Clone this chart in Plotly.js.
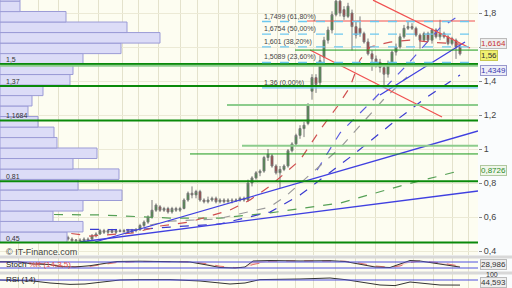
<!DOCTYPE html>
<html><head><meta charset="utf-8">
<script src="https://cdn.plot.ly/plotly-3.0.1.min.js"></script>
<style>html,body{margin:0;padding:0;background:#fff;}#chart{width:512px;height:288px;}</style>
</head><body><div id="chart"></div>
<script>
// ---- candles (weekly index) ----
const opens = [.56,.57,.55,.56,.59,.58,.60,.59,.60,.57,.56,.57,.55,.53,.50,.49,.48,.47,.46,.465,.46,.47,.47,.49,.50,.52,.51,.52,.51,.52,.515,.52,.51,.52,.525,.55,.57,.60,.64,.66,.64,.65,.63,.65,.64,.65,.70,.74,.73,.75,.70,.69,.70,.71,.69,.70,.69,.70,.695,.70,.71,.70,.80,.83,.86,.87,.95,.96,.90,.86,.88,.90,.99,1.03,1.08,1.12,1.15,1.34,1.42,1.39,1.54,1.64,1.70,1.79,1.87,1.82,1.78,1.80,1.72,1.71,1.68,1.63,1.56,1.53,1.51,1.48,1.44,1.50,1.57,1.60,1.66,1.71,1.72,1.71,1.67,1.64,1.68,1.64,1.70,1.66,1.68,1.66,1.62,1.64,1.60];
const highs = [.58,.58,.57,.60,.60,.61,.61,.61,.60,.58,.58,.58,.56,.53,.51,.50,.49,.48,.47,.475,.48,.48,.50,.51,.53,.53,.53,.53,.53,.53,.53,.53,.53,.535,.56,.58,.61,.70,.68,.67,.66,.66,.66,.66,.66,.71,.75,.78,.76,.76,.71,.72,.72,.72,.71,.71,.71,.71,.71,.72,.72,.82,.84,.87,.88,.96,1.0,.97,.91,.90,.91,1.0,1.04,1.09,1.14,1.16,1.27,1.44,1.44,1.55,1.66,1.72,1.81,1.90,1.92,1.84,1.86,1.82,1.75,1.78,1.69,1.65,1.58,1.55,1.53,1.50,1.52,1.58,1.62,1.68,1.73,1.75,1.74,1.72,1.68,1.69,1.69,1.71,1.71,1.76,1.69,1.67,1.66,1.65,1.61];
const lows = [.55,.54,.54,.55,.56,.57,.58,.57,.56,.52,.55,.54,.53,.49,.48,.47,.46,.455,.45,.45,.45,.455,.46,.48,.495,.50,.50,.505,.50,.51,.505,.50,.505,.51,.52,.54,.56,.59,.63,.63,.63,.62,.62,.63,.63,.645,.69,.71,.71,.69,.68,.68,.69,.68,.68,.68,.685,.68,.69,.69,.69,.69,.78,.82,.84,.86,.93,.89,.85,.77,.87,.89,.98,1.02,1.06,1.07,1.14,1.29,1.33,1.37,1.50,1.62,1.68,1.78,1.78,1.76,1.77,1.58,1.65,1.66,1.62,1.55,1.46,1.48,1.45,1.36,1.42,1.49,1.55,1.59,1.65,1.70,1.70,1.66,1.59,1.63,1.63,1.62,1.65,1.64,1.65,1.61,1.61,1.53,1.55];
const closes = [.57,.55,.56,.59,.58,.60,.59,.60,.57,.56,.57,.55,.54,.50,.49,.48,.47,.46,.465,.46,.47,.465,.49,.50,.52,.51,.52,.51,.52,.515,.52,.51,.52,.525,.55,.57,.60,.64,.67,.64,.65,.63,.65,.64,.65,.70,.74,.73,.75,.70,.69,.70,.71,.69,.70,.69,.70,.695,.70,.71,.70,.80,.83,.86,.87,.95,.97,.90,.86,.88,.90,.99,1.03,1.08,1.12,1.14,1.26,1.42,1.38,1.52,1.64,1.70,1.79,1.87,1.80,1.78,1.84,1.72,1.67,1.68,1.63,1.56,1.53,1.51,1.48,1.44,1.50,1.57,1.60,1.66,1.71,1.72,1.71,1.67,1.64,1.68,1.64,1.70,1.66,1.68,1.66,1.62,1.65,1.60,1.56];
const candleIdx = opens.map((_, i) => i);

// ---- volume-at-price profile ----
const profilePrice = [0.481,0.543,0.605,0.666,0.728,0.790,0.852,0.913,0.975,1.037,1.098,1.160,1.222,1.284,1.345,1.407,1.469,1.531,1.592,1.654,1.716,1.778,1.839,1.901];
const profileVolume = [67,83,53,83,122,78,119,73,97,57,54,38,28,32,43,70,73,83,121,160,127,66,20,20];

// ---- moving averages / drawn lines (index, price) ----
const maRedIdx = [-1,9,14,21.5,32.25,39,46.5,56.5,61.5,66.5,74,79,83.25,86.5,89,91.5,96.5,101.5,106.5,114];
const maRedVal = [.529,.541,.512,.488,.506,.547,.571,.641,.700,.782,.935,1.112,1.247,1.365,1.524,1.60,1.629,1.641,1.629,1.6164];
const maGrayIdx = [36.5,41.5,53.25,66.5,70.75,84,94.75,100.75];
const maGrayVal = [.553,.576,.588,.659,.729,1.006,1.288,1.424];
const maBlueIdx = [-1,19.75,32.25,41.5,54,66.5,74,87.25,96.5,105.75,114];
const maBlueVal = [.535,.529,.524,.541,.559,.629,.729,.965,1.141,1.306,1.4349];
const maGreenIdx = [-1,24,41.5,54,66.5,84,99,114];
const maGreenVal = [.618,.612,.594,.594,.624,.682,.782,.8726];
const fanBlueIdx = [78.25,84,92.25,100.25,109,114];
const fanBlueVal = [.876,1.094,1.288,1.482,1.712,1.788];

const trendA = {idx:[22.75,118.5], val:[.453,1.106]};
const trendB = {idx:[19,118.5], val:[.453,.753]};
const trendC = {idx:[94,115.25], val:[1.318,1.629]};
const redUpper = {idx:[92.25,116.5], val:[1.876,1.594]};
const redLower = {idx:[76.5,109.5], val:[1.582,1.188]};
const redTop = {idx:[75.75,117.75], val:[1.753,1.753]};

// ---- horizontal levels ----
const supportLevels = [1.5, 1.37, 1.1684, 0.81, 0.45];
const supportLabels = ['1,5','1,37','1,1684','0,81','0,45'];
const fibLevels = [1.7499, 1.6754, 1.601, 1.5089, 1.36];
const fibLabels = ['1,7499 (61,80%)','1,6754 (50,00%)','1,601 (38,20%)','1,5089 (23,60%)','1,36 (0,00%)'];
const fibStartIdx = 64.5;

// ---- price axis ticks ----
const yTickVals = [0.4,0.6,0.8,1,1.2,1.4,1.6,1.8];
const yTickText = ['0,4','0,6','0,8','1','1,2','1,4','','1,8'];

// ---- oscillators ----
const stochIdx = [-1,3.25,7.25,11.5,14,17.75,21.5,25.25,28.25,34,41.5,46.5,50.75,54,57.75,60.25,62.25,66.5,74,81.5,85.25,89,92.75,96.5,99,101.5,104,109,114];
const stochK = [83,83,60,55,33,30,43,70,85,88,85,80,50,25,20,30,90,95,90,93,85,55,30,25,60,95,90,60,28.986];
const stochD = [80,82,70,58,42,32,36,55,75,86,86,82,62,38,24,25,55,88,92,91,88,68,40,28,40,75,90,72,40];
const rsiIdx = [-1,7.25,11.5,16.5,20.25,24,29,34,41.5,49,56.5,60.25,64,74,81.5,85.25,89,94,97.75,101.5,104,109,114];
const rsiVal = [70,65,55,48,50,60,70,72,72,65,50,55,72,75,80,72,60,45,42,60,55,45,44.593];

const gridIdx = [3.5,8.5,13.5,18.5,23.5,29.5,33.5,38.5,44,48.25,53.5,58.5,63.25,68.25,72.75,77.25,82.75,87.75,92.75,97.75,102.25,107.25,112,116];

const F = 'Arial, "Liberation Sans", sans-serif';
const xEnd = 478/512;

function line(o, color, dash, width, ya) {
  return {type:'scatter', mode:'lines', x:o.idx, y:o.val, xaxis:'x', yaxis:ya||'y',
    line:{color:color, dash:dash||'solid', width:width||1}, hoverinfo:'skip', showlegend:false};
}

const traces = [
  {type:'bar', orientation:'h', x:profileVolume, y:profilePrice, xaxis:'x2', yaxis:'y', width:0.0618,
   marker:{color:'#dcdcf7', line:{color:'#9b9bd6', width:1}}, hoverinfo:'skip', showlegend:false},
  line({idx:maGreenIdx,val:maGreenVal}, '#55a055', 'dash', 1.2),
  line({idx:maBlueIdx,val:maBlueVal}, '#3a3ad0', 'dash', 1.2),
  line({idx:fanBlueIdx,val:fanBlueVal}, '#5a5ae0', 'dash', 1.2),
  line({idx:maGrayIdx,val:maGrayVal}, '#9a9a9a', 'dash', 1.2),
  line({idx:maRedIdx,val:maRedVal}, '#d05050', 'dash', 1.2),
  line(trendA, '#4040e0', 'solid', 1.3),
  line(trendB, '#4040e0', 'solid', 1.3),
  line(trendC, '#4040e0', 'solid', 1.3),
  line(redUpper, '#f05050', 'solid', 1.2),
  line(redLower, '#f05050', 'solid', 1.2),
  line(redTop, '#f05050', 'solid', 1.2),
  {type:'candlestick', x:candleIdx, open:opens, high:highs, low:lows, close:closes, xaxis:'x', yaxis:'y',
   increasing:{line:{color:'#7a7a7a', width:1}, fillcolor:'#3a8f3a'},
   decreasing:{line:{color:'#7a7a7a', width:1}, fillcolor:'#a83030'},
   whiskerwidth:0, hoverinfo:'skip', showlegend:false},
  {type:'scatter', mode:'lines', x:stochIdx, y:stochD, xaxis:'x', yaxis:'y3', line:{color:'#e07070', width:1, dash:'dash'}, hoverinfo:'skip', showlegend:false},
  {type:'scatter', mode:'lines', x:stochIdx, y:stochK, xaxis:'x', yaxis:'y3', line:{color:'#333', width:1}, fill:'tonexty', fillcolor:'rgba(235,150,150,0.45)', hoverinfo:'skip', showlegend:false},
  {type:'scatter', mode:'lines', x:rsiIdx, y:rsiVal, xaxis:'x', yaxis:'y4', line:{color:'#333', width:1}, hoverinfo:'skip', showlegend:false}
];

const shapes = [];
supportLevels.forEach(v => shapes.push({type:'line', xref:'x domain', x0:0, x1:1, yref:'y', y0:v, y1:v, line:{color:'#0a8a0a', width:2}, layer:'above'}));
[[1.49,0],[1.259,227],[1.019,242]].forEach(([v,px]) => shapes.push({type:'line', xref:'x domain', x0:px/478, x1:1, yref:'y', y0:v, y1:v, line:{color:'#8ccc8c', width:2}, layer:'above'}));
[[0.971,190],[1.582,295]].forEach(([v,px]) => shapes.push({type:'line', xref:'x domain', x0:px/478, x1:1, yref:'y', y0:v, y1:v, line:{color:'#1a9a1a', width:1}, layer:'above'}));
fibLevels.forEach((v,k) => shapes.push({type:'line', xref:'x', x0:fibStartIdx, x1:118.5, yref:'y', y0:v, y1:v,
  line:{color:'#6cc8f0', width:1.3, dash: k===4 ? 'solid':'dash'}, layer:'above'}));
[80,20].forEach(v => shapes.push({type:'line', xref:'x domain', x0:0, x1:1, yref:'y3', y0:v, y1:v, line:{color:'#5050e0', width:1}}));
shapes.push({type:'line', xref:'x domain', x0:0, x1:1, yref:'y4', y0:70, y1:70, line:{color:'#5050e0', width:1}});
[257, 273].forEach(py => shapes.push({type:'rect', xref:'paper', x0:0, x1:1, yref:'paper', y0:1-(py+1.5)/288, y1:1-(py-1.5)/288, fillcolor:'#d8d8d8', line:{width:0}}));

const ann = [];
supportLevels.forEach((v,k) => ann.push({xref:'x domain', x:0.008, xanchor:'left', yref:'y', y:v, yanchor:'bottom', text:supportLabels[k], showarrow:false, font:{family:F, size:7, color:'#333'}, yshift:-1}));
fibLevels.forEach((v,k) => ann.push({xref:'x', x:fibStartIdx, xanchor:'left', yref:'y', y:v, yanchor:'bottom', text:fibLabels[k], showarrow:false, font:{family:F, size:7, color:'#444'}, yshift:-1}));
ann.push({xref:'paper', x:4/512, xanchor:'left', yref:'paper', y:1-252/288, yanchor:'middle', text:'© IT-Finance.com', showarrow:false, font:{family:F, size:9, color:'#444'}});
ann.push({xref:'paper', x:4/512, xanchor:'left', yref:'paper', y:1-264/288, yanchor:'middle', text:'<span style="color:#222">Stoch</span> <span style="color:#e05050">%K (14,3,5)</span>', showarrow:false, font:{family:F, size:8}});
ann.push({xref:'paper', x:4/512, xanchor:'left', yref:'paper', y:1-279/288, yanchor:'middle', text:'RSI (14)', showarrow:false, font:{family:F, size:8, color:'#222'}});
function box(y, yref, txt, col, bg, bc, ys) {
  ann.push({xref:'paper', x:480/512, xanchor:'left', yref:yref, y:y, yanchor:'middle', text:txt, showarrow:false, yshift:ys||0,
    font:{family:F, size:8, color:col}, bgcolor:bg, bordercolor:bc, borderwidth:1, borderpad:0});
}
box(1.6164, 'y', '1,6164', '#c83232', '#eeeeee', '#bbbbbb', 1);
box(1.56, 'y', '1,56', '#333333', '#f0f070', '#c8c850', -2);
box(1.4349, 'y', '1,4349', '#3838b0', '#eeeef8', '#9999cc', 5);
box(0.8726, 'y', '0,8726', '#2a8a2a', '#f0f6ea', '#b0c8a0');
box(28.986, 'y3', '28,986', '#333333', '#eeeeee', '#bbbbbb', 3);
ann.push({xref:'paper', x:480/512, xanchor:'left', yref:'paper', y:0, yanchor:'bottom', text:'44,593', showarrow:false,
  font:{family:F, size:8, color:'#333'}, bgcolor:'#eeeeee', bordercolor:'#bbbbbb', borderwidth:1, borderpad:0});
ann.push({xref:'paper', x:484/512, xanchor:'left', yref:'paper', y:1-274/288, yanchor:'middle', text:'100', showarrow:false, font:{family:F, size:7, color:'#333'}});

const layout = {
  width:512, height:288, margin:{l:0,r:0,t:0,b:0}, separators:', ',
  paper_bgcolor:'#fafcfd', plot_bgcolor:'#fdfdf1', showlegend:false, dragmode:false,
  xaxis:{domain:[0,xEnd], range:[-1,118.5], showticklabels:false, tickvals:gridIdx, ticks:'', showgrid:true, gridcolor:'#e4e2cc', gridwidth:1, zeroline:false, rangeslider:{visible:false}, showline:false, anchor:'y', fixedrange:true},
  xaxis2:{overlaying:'x', range:[0,478], visible:false, fixedrange:true},
  yaxis:{domain:[1-255/288,1], range:[0.3765,1.8765], side:'right', tickvals:yTickVals, ticktext:yTickText, ticks:'outside', ticklen:3, tickcolor:'#888',
    tickfont:{family:F, size:9, color:'#444'}, showgrid:true, gridcolor:'#ecead6', zeroline:false, showline:false, fixedrange:true},
  yaxis3:{domain:[1-272/288, 1-258/288], range:[-20,120], showticklabels:false, showgrid:false, zeroline:false, anchor:'x', fixedrange:true},
  yaxis4:{domain:[0, 1-274/288], range:[30,100], showticklabels:false, showgrid:false, zeroline:false, anchor:'x', fixedrange:true},
  shapes:shapes, annotations:ann
};
Plotly.newPlot('chart', traces, layout, {staticPlot:true, displayModeBar:false});
</script></body></html>
